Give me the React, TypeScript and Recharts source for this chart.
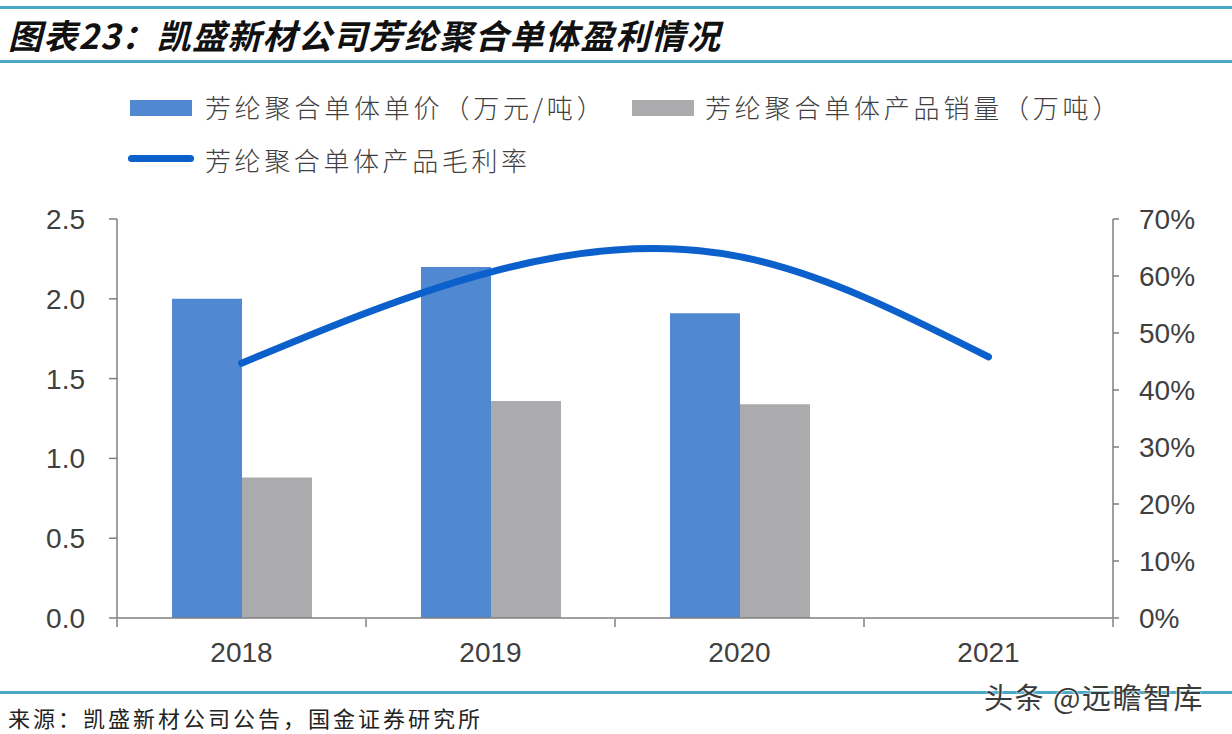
import React from "react";
import { ComposedChart, Bar, Line, XAxis, YAxis } from "recharts";

const years = ["2018", "2019", "2020", "2021"];
const unitPrice = [2.0, 2.2, 1.91, null];
const salesVolume = [0.88, 1.36, 1.34, null];
const grossMargin = [0.447, 0.607, 0.634, 0.458];
const leftTicks = [0, 0.5, 1.0, 1.5, 2.0, 2.5];
const rightTicks = [0, 0.1, 0.2, 0.3, 0.4, 0.5, 0.6, 0.7];
const boundaryTicks = [0, 1, 2, 3, 4];

const seriesNames = {
  price: "芳纶聚合单体单价（万元/吨）",
  volume: "芳纶聚合单体产品销量（万吨）",
  margin: "芳纶聚合单体产品毛利率",
};

const BLUE_BAR = "#5088d2";
const GRAY_BAR = "#ababad";
const LINE_BLUE = "#0b60cc";
const AXIS = "#7f7f7f";
const TEXT = "#404040";
const RULE = "#4aa8c6";

const data = years.map((y, i) => ({
  year: y,
  idx: i,
  price: unitPrice[i],
  volume: salesVolume[i],
  margin: grossMargin[i],
}));

const tickFont = { fontFamily: "'Liberation Sans', Arial, sans-serif", fontSize: 28, fill: TEXT };
const cjk = "'Noto Sans CJK SC', 'Noto Sans', sans-serif";

export default function App() {
  return (
    <div style={{ position: "absolute", left: 0, top: 0, width: 1232, height: 734, background: "#fff", overflow: "hidden" }}>
      <div style={{ position: "absolute", left: 0, top: 6, width: 1232, height: 3, background: RULE }} />
      <div
        style={{
          position: "absolute",
          left: 8,
          top: 10,
          fontFamily: cjk,
          fontSize: 34,
          fontWeight: 700,
          fontStyle: "italic",
          color: "#111",
          letterSpacing: 1.3,
          whiteSpace: "nowrap",
        }}
      >
        图表23：凯盛新材公司芳纶聚合单体盈利情况
      </div>
      <div style={{ position: "absolute", left: 0, top: 60, width: 1232, height: 3, background: RULE }} />

      {/* legend */}
      <div style={{ position: "absolute", left: 130, top: 100, width: 62, height: 16, background: BLUE_BAR }} />
      <div style={{ position: "absolute", left: 205, top: 88, fontFamily: cjk, fontSize: 26, fontWeight: 300, color: TEXT, letterSpacing: 3.8, whiteSpace: "nowrap" }}>
        {seriesNames.price}
      </div>
      <div style={{ position: "absolute", left: 632, top: 100, width: 62, height: 16, background: GRAY_BAR }} />
      <div style={{ position: "absolute", left: 705, top: 88, fontFamily: cjk, fontSize: 26, fontWeight: 300, color: TEXT, letterSpacing: 3.8, whiteSpace: "nowrap" }}>
        {seriesNames.volume}
      </div>
      <div style={{ position: "absolute", left: 128, top: 155, width: 66, height: 7, borderRadius: 4, background: LINE_BLUE }} />
      <div style={{ position: "absolute", left: 205, top: 141, fontFamily: cjk, fontSize: 26, fontWeight: 300, color: TEXT, letterSpacing: 3.6, whiteSpace: "nowrap" }}>
        {seriesNames.margin}
      </div>

      <div style={{ position: "absolute", left: 0, top: 0 }}>
        <ComposedChart
          width={1232}
          height={734}
          data={data}
          margin={{ top: 219, right: 0, bottom: 114, left: 0 }}
          barGap={0}
        >
          <XAxis
            xAxisId="grid"
            type="number"
            dataKey="idx"
            domain={[0, 4]}
            ticks={boundaryTicks}
            allowDataOverflow
            height={1}
            tickFormatter={() => ""}
            axisLine={false}
            tickLine={{ stroke: AXIS, strokeWidth: 1.5 }}
            tickSize={8}
          />
          <XAxis
            xAxisId="cat"
            dataKey="year"
            height={1}
            tickLine={false}
            axisLine={{ stroke: AXIS, strokeWidth: 1.5 }}
            tick={tickFont}
            tickSize={8}
            tickMargin={16}
            interval={0}
          />
          <YAxis
            yAxisId="left"
            width={117}
            domain={[0, 2.5]}
            ticks={leftTicks}
            tickFormatter={(v: number) => v.toFixed(1)}
            tick={tickFont}
            axisLine={{ stroke: AXIS, strokeWidth: 1.5 }}
            tickLine={{ stroke: AXIS, strokeWidth: 1.5 }}
            tickSize={8}
            tickMargin={24}
          />
          <YAxis
            yAxisId="right"
            orientation="right"
            width={119}
            domain={[0, 0.7]}
            ticks={rightTicks}
            tickFormatter={(v: number) => `${Math.round(v * 100)}%`}
            tick={tickFont}
            axisLine={{ stroke: AXIS, strokeWidth: 1.5 }}
            tickLine={{ stroke: AXIS, strokeWidth: 1.5 }}
            tickSize={6}
            tickMargin={20}
          />
          <Bar xAxisId="cat" yAxisId="left" dataKey="price" name={seriesNames.price} fill={BLUE_BAR} barSize={70} isAnimationActive={false} />
          <Bar xAxisId="cat" yAxisId="left" dataKey="volume" name={seriesNames.volume} fill={GRAY_BAR} barSize={70} isAnimationActive={false} />
          <Line
            xAxisId="cat"
            yAxisId="right"
            dataKey="margin"
            name={seriesNames.margin}
            type="natural"
            stroke={LINE_BLUE}
            strokeWidth={7}
            strokeLinecap="round"
            dot={false}
            activeDot={false}
            isAnimationActive={false}
          />
        </ComposedChart>
      </div>

      <div style={{ position: "absolute", left: 0, top: 691, width: 1232, height: 3, background: RULE }} />
      <div style={{ position: "absolute", left: 8, top: 701, fontFamily: cjk, fontSize: 22, color: "#222", letterSpacing: 3, whiteSpace: "nowrap" }}>
        来源：凯盛新材公司公告，国金证券研究所
      </div>
      <div
        style={{
          position: "absolute",
          left: 984,
          top: 675,
          fontFamily: cjk,
          fontSize: 29,
          color: "#3a3a3a",
          letterSpacing: 1.5,
          whiteSpace: "nowrap",
          textShadow: "0 0 2px #fff, 0 0 2px #fff",
        }}
      >
        头条 @远瞻智库
      </div>
    </div>
  );
}
